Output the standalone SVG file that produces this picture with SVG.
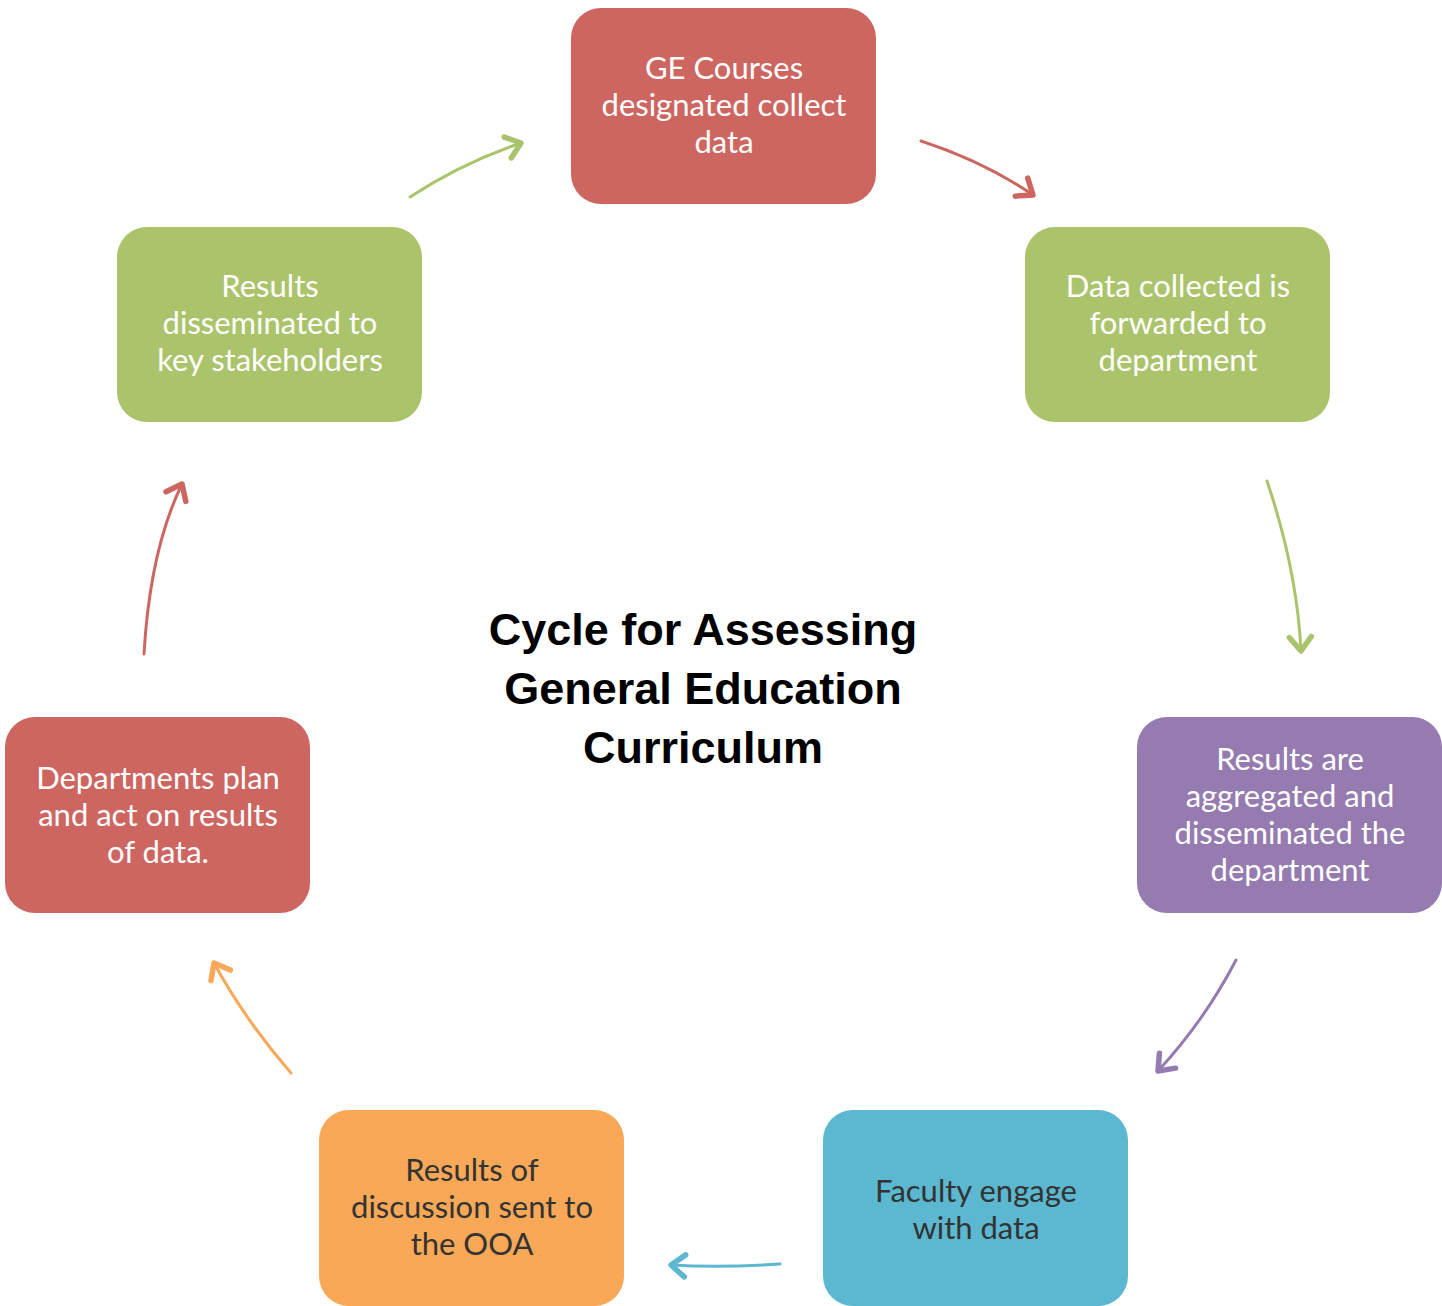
<svg xmlns="http://www.w3.org/2000/svg" width="1442" height="1306" viewBox="0 0 1442 1306">
<style>
.box{stroke:none}
.t{font-family:Lato,"Open Sans","Liberation Sans",sans-serif;font-size:31px;text-anchor:middle}
.w{fill:#ffffff}
.d{fill:#333333}
.title{font-family:"Liberation Sans",Arial,sans-serif;font-weight:bold;font-size:45px;text-anchor:middle;fill:#000}
.c{fill:none;stroke-width:3;stroke-linecap:round}
</style>
<defs>
<marker id="mG" markerUnits="userSpaceOnUse" markerWidth="34" markerHeight="34" refX="0" refY="0" viewBox="-18 -17 22 34" orient="auto"><path d="M-14,-11 L0,0 L-14,11" fill="none" stroke="#A9C46A" stroke-width="5.5" stroke-linecap="round" stroke-linejoin="round"/></marker>
<marker id="mR" markerUnits="userSpaceOnUse" markerWidth="34" markerHeight="34" refX="0" refY="0" viewBox="-18 -17 22 34" orient="auto"><path d="M-14,-11 L0,0 L-14,11" fill="none" stroke="#CD6660" stroke-width="5.5" stroke-linecap="round" stroke-linejoin="round"/></marker>
<marker id="mP" markerUnits="userSpaceOnUse" markerWidth="34" markerHeight="34" refX="0" refY="0" viewBox="-18 -17 22 34" orient="auto"><path d="M-14,-11 L0,0 L-14,11" fill="none" stroke="#957BB0" stroke-width="5.5" stroke-linecap="round" stroke-linejoin="round"/></marker>
<marker id="mB" markerUnits="userSpaceOnUse" markerWidth="34" markerHeight="34" refX="0" refY="0" viewBox="-18 -17 22 34" orient="auto"><path d="M-14,-11 L0,0 L-14,11" fill="none" stroke="#5BB8D0" stroke-width="5.5" stroke-linecap="round" stroke-linejoin="round"/></marker>
<marker id="mO" markerUnits="userSpaceOnUse" markerWidth="34" markerHeight="34" refX="0" refY="0" viewBox="-18 -17 22 34" orient="auto"><path d="M-14,-11 L0,0 L-14,11" fill="none" stroke="#F8A856" stroke-width="5.5" stroke-linecap="round" stroke-linejoin="round"/></marker>
</defs>
<rect width="1442" height="1306" fill="#ffffff"/>

<g id="connectors">
<path class="c" stroke="#A9C46A" d="M410,197 Q462,163 521,143" marker-end="url(#mG)"/>
<path class="c" stroke="#CD6660" d="M921,141 Q985,162 1033,195" marker-end="url(#mR)"/>
<path class="c" stroke="#A9C46A" d="M1267,481 Q1297,570 1301,651" marker-end="url(#mG)"/>
<path class="c" stroke="#957BB0" d="M1236,960 Q1205,1020 1158,1071" marker-end="url(#mP)"/>
<path class="c" stroke="#5BB8D0" d="M780,1264 Q720,1268 671,1265" marker-end="url(#mB)"/>
<path class="c" stroke="#F8A856" d="M291,1073 Q245,1020 214,963" marker-end="url(#mO)"/>
<path class="c" stroke="#CD6660" d="M144,654 Q150,550 182,484" marker-end="url(#mR)"/>
</g>

<g id="node-ge-courses">
<rect class="box" x="571" y="8" width="305" height="196" rx="30" fill="#CD6660"/>
<text class="t w" x="724" y="79">GE Courses</text>
<text class="t w" x="724" y="116">designated collect</text>
<text class="t w" x="724" y="153">data</text>
</g>

<g id="node-data-forwarded">
<rect class="box" x="1025" y="227" width="305" height="195" rx="30" fill="#ABC46C"/>
<text class="t w" x="1178" y="297">Data collected is</text>
<text class="t w" x="1178" y="334">forwarded to</text>
<text class="t w" x="1178" y="371">department</text>
</g>

<g id="node-results-aggregated">
<rect class="box" x="1137" y="717" width="305" height="196" rx="30" fill="#957BB0"/>
<text class="t w" x="1290" y="770">Results are</text>
<text class="t w" x="1290" y="807">aggregated and</text>
<text class="t w" x="1290" y="844">disseminated the</text>
<text class="t w" x="1290" y="881">department</text>
</g>

<g id="node-faculty-engage">
<rect class="box" x="823" y="1110" width="305" height="196" rx="30" fill="#5BB8D0"/>
<text class="t d" x="976" y="1202">Faculty engage</text>
<text class="t d" x="976" y="1239">with data</text>
</g>

<g id="node-results-discussion">
<rect class="box" x="319" y="1110" width="305" height="196" rx="30" fill="#F8A856"/>
<text class="t d" x="472" y="1181">Results of</text>
<text class="t d" x="472" y="1218">discussion sent to</text>
<text class="t d" x="472" y="1255">the OOA</text>
</g>

<g id="node-departments-plan">
<rect class="box" x="5" y="717" width="305" height="196" rx="30" fill="#CD6660"/>
<text class="t w" x="158" y="789">Departments plan</text>
<text class="t w" x="158" y="826">and act on results</text>
<text class="t w" x="158" y="863">of data.</text>
</g>

<g id="node-results-disseminated">
<rect class="box" x="117" y="227" width="305" height="195" rx="30" fill="#ABC46C"/>
<text class="t w" x="270" y="297">Results</text>
<text class="t w" x="270" y="334">disseminated to</text>
<text class="t w" x="270" y="371">key stakeholders</text>
</g>

<g id="title">
<text class="title" x="703" y="645">Cycle for Assessing</text>
<text class="title" x="703" y="704">General Education</text>
<text class="title" x="703" y="763">Curriculum</text>
</g>
</svg>
